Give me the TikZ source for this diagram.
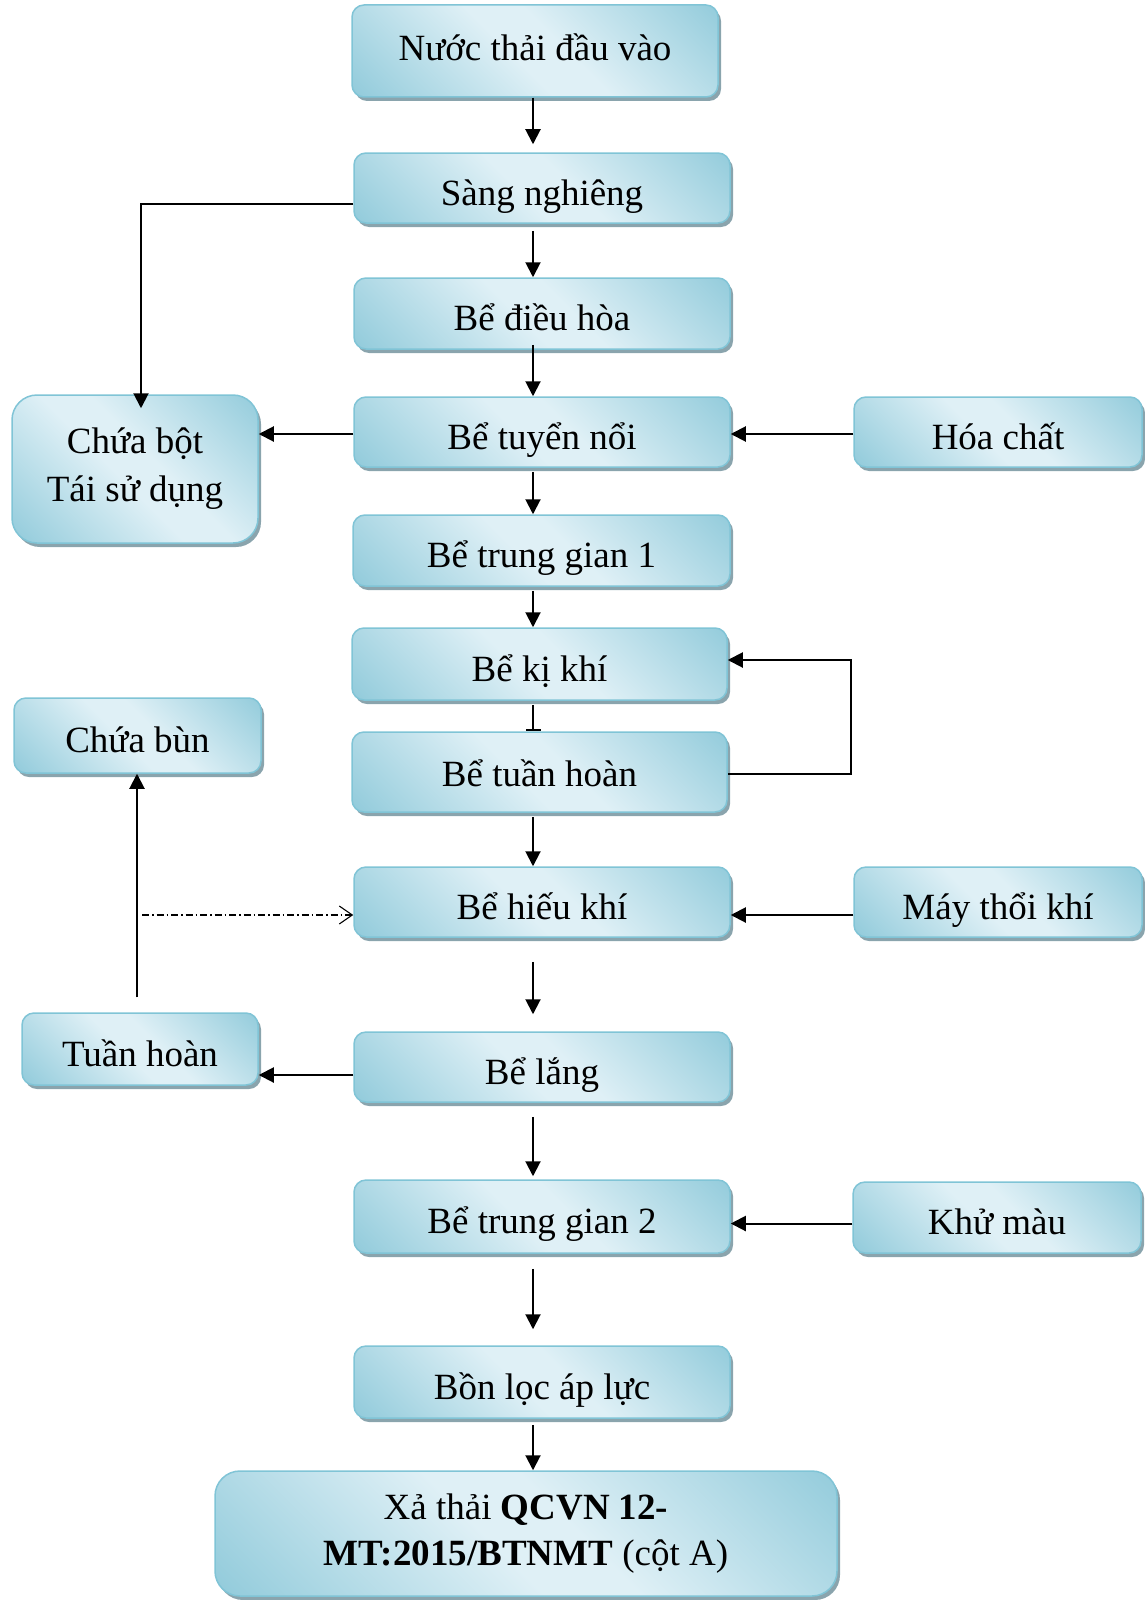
\documentclass[tikz,border=0pt]{standalone}
\usepackage{fontspec}
\setmainfont{Liberation Serif}
\usetikzlibrary{arrows.meta,shadows}

\definecolor{bdark}{RGB}{146,203,219}
\definecolor{blight}{RGB}{223,240,246}
\definecolor{bborder}{RGB}{128,196,214}
\definecolor{bshadow}{RGB}{138,164,173}

% diagonal light band across each box
\pgfdeclarehorizontalshading{boxshade}{100bp}{color(0bp)=(bdark); color(15bp)=(bdark); color(46bp)=(blight); color(55bp)=(blight); color(86bp)=(bdark); color(100bp)=(bdark)}

\begin{document}
\begin{tikzpicture}[x=1pt,y=-1pt,
  proc/.style={rectangle, rounded corners=12pt, draw=bborder, line width=1.5pt,
    shading=boxshade, shading angle=45, inner sep=0pt, align=center,
    drop shadow={shadow xshift=3pt, shadow yshift=-4pt, fill=bshadow, opacity=1},
    font=\fontsize{37pt}{46pt}\selectfont},
  oneline/.style={text height=34pt, text depth=0pt},
  arr/.style={line width=2pt, -{Triangle[length=15pt,width=15pt]}},
  tee/.style={line width=2pt, -{Bar[width=15pt]}},
  feedline/.style={line width=1.1pt, dash pattern=on 7pt off 3pt on 1.5pt off 3pt,
    -{Straight Barb[length=13pt,width=18pt,line width=1.1pt]}}]

\useasboundingbox (0,0) rectangle (1144,1600);

% main treatment line
\node[proc, oneline, text height=20pt, minimum width=366pt, minimum height=92pt] (nuoc) at (535,51) {Nước thải đầu vào};
\node[proc, oneline, minimum width=376pt, minimum height=70pt] (sang) at (542,188) {Sàng nghiêng};
\node[proc, oneline, minimum width=376pt, minimum height=71pt] (dh) at (542,313.5) {Bể điều hòa};
\node[proc, oneline, minimum width=376pt, minimum height=70pt] (tn) at (542,432) {Bể tuyển nổi};
\node[proc, oneline, minimum width=377pt, minimum height=71pt] (tg1) at (541.5,550.5) {Bể trung gian 1};
\node[proc, oneline, minimum width=375pt, minimum height=72pt] (kk) at (539.5,664) {Bể kị khí};
\node[proc, oneline, text height=28pt, minimum width=375pt, minimum height=80pt] (th) at (539.5,772) {Bể tuần hoàn};
\node[proc, oneline, minimum width=376pt, minimum height=70pt] (hk) at (542,902) {Bể hiếu khí};
\node[proc, oneline, minimum width=376pt, minimum height=70pt] (lang) at (542,1067) {Bể lắng};
\node[proc, oneline, minimum width=376pt, minimum height=73pt] (tg2) at (542,1216.5) {Bể trung gian 2};
\node[proc, oneline, minimum width=376pt, minimum height=72pt] (bon) at (542,1382) {Bồn lọc áp lực};
\node[proc, rounded corners=25pt, minimum width=622pt, minimum height=125pt] (xa) at (526,1533.5)
  {Xả thải \textbf{QCVN 12-}\\\textbf{MT:2015/BTNMT} (cột A)};

% side boxes on the left
\node[proc, rounded corners=25pt, font=\fontsize{37pt}{48pt}\selectfont,
  minimum width=246pt, minimum height=148pt] (cbot) at (135,469) {Chứa bột\\Tái sử dụng};
\node[proc, oneline, minimum width=247pt, minimum height=75pt] (cbun) at (137.5,735.5) {Chứa bùn};
\node[proc, oneline, minimum width=236pt, minimum height=72pt] (thl) at (140,1049) {Tuần hoàn};

% side boxes on the right
\node[proc, oneline, minimum width=288pt, minimum height=70pt] (hc) at (998,432) {Hóa chất};
\node[proc, oneline, minimum width=288pt, minimum height=70pt] (mtk) at (998,902) {Máy thổi khí};
\node[proc, oneline, minimum width=288pt, minimum height=71pt] (km) at (997,1217.5) {Khử màu};

% helper points for the connectors
\coordinate (spine) at (533,0);
\coordinate (loopx) at (851,0);
\coordinate (sangout) at ([yshift=-16pt]sang.west);
\coordinate (cbotin) at ([xshift=6pt]cbot.north);
\coordinate (tnleft) at ([yshift=-2pt]tn.west);
\coordinate (hcout) at ([yshift=-2pt]hc.west);
\coordinate (kkin) at ([yshift=4pt]kk.east);
\coordinate (thout) at ([yshift=-2pt]th.east);
\coordinate (mtkout) at ([yshift=-13pt]mtk.west);
\coordinate (langout) at ([yshift=-8pt]lang.west);
\coordinate (thup) at ([xshift=-3pt]thl.north);
\coordinate (kmout) at ([yshift=-6pt]km.west);

% vertical flow
\draw[arr, shorten >=8pt] (nuoc.south -| spine) -- (sang.north -| spine);
\draw[arr, shorten <=7pt] (sang.south -| spine) -- (dh.north -| spine);
\draw[arr, shorten <=-5pt] (dh.south -| spine) -- (tn.north -| spine);
\draw[arr, shorten <=4pt] (tn.south -| spine) -- (tg1.north -| spine);
\draw[arr, shorten <=4pt] (tg1.south -| spine) -- (kk.north -| spine);
\draw[tee, shorten <=4pt] (kk.south -| spine) -- (th.north -| spine);
\draw[arr, shorten <=4pt] (th.south -| spine) -- (hk.north -| spine);
\draw[arr, shorten <=24pt, shorten >=17pt] (hk.south -| spine) -- (lang.north -| spine);
\draw[arr, shorten <=14pt, shorten >=3pt] (lang.south -| spine) -- (tg2.north -| spine);
\draw[arr, shorten <=15pt, shorten >=16pt] (tg2.south -| spine) -- (bon.north -| spine);
\draw[arr, shorten <=6pt] (bon.south -| spine) -- (xa.north -| spine);

% side streams
\draw[arr, shorten >=-14pt] (sangout) -| (cbotin);
\draw[arr] (tnleft) -- (tnleft -| cbot.east);
\draw[arr] (hcout) -- (hcout -| tn.east);
\draw[arr] (thout) -- (thout -| loopx) |- (kkin);
\draw[arr] (mtkout) -- (mtkout -| hk.east);
\draw[arr] (langout) -- (langout -| thl.east);
\draw[arr, shorten <=15pt] (thup) -- (thup |- cbun.south);
\draw[feedline, shorten <=5pt] (thup |- mtkout) -- (mtkout -| hk.west);
\draw[arr] (kmout) -- (kmout -| tg2.east);

\end{tikzpicture}
\end{document}
